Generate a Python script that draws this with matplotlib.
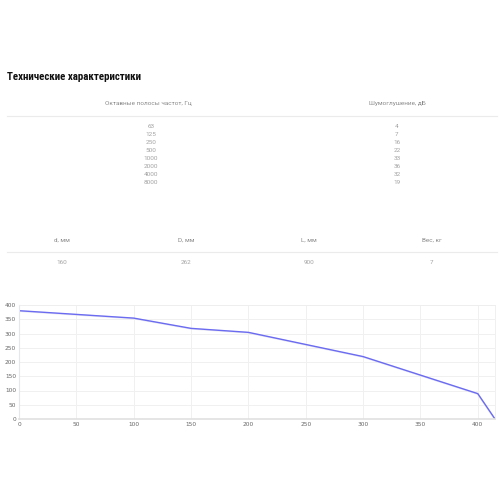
import matplotlib
matplotlib.use("Agg")
import matplotlib.pyplot as plt
from matplotlib.lines import Line2D
from matplotlib import font_manager

title = "Технические характеристики"
octave_header = "Октавные полосы частот, Гц"
noise_header = "Шумоглушение, дБ"
octave_bands = ["63", "125", "250", "500", "1000", "2000", "4000", "8000"]
noise_db = ["4", "7", "16", "22", "33", "36", "32", "19"]

dim_headers = ["d, мм", "D, мм", "L, мм", "Вес, кг"]
dim_values = ["160", "262", "900", "7"]

flow_x = [0, 100, 150, 200, 300, 400, 415]
flow_y = [380, 354, 318, 304, 219, 89, 0]

W = H = 500
fig = plt.figure(figsize=(5, 5), dpi=100)
fig.patch.set_facecolor("white")

def fx(px):
    return px / W

def fy(py):
    return 1 - py / H

txt_color = "#8a8a8a"
val_color = "#a3a3a3"
line_col = "#ebebeb"
body_family = ["Roboto", "DejaVu Sans"]

# condensed title font if available
names = {f.name for f in font_manager.fontManager.ttflist}
stretches = {(f.name, f.stretch) for f in font_manager.fontManager.ttflist}
title_family = ["Roboto", "DejaVu Sans"]
title_stretch = "normal"
for nm in ["Roboto Condensed", "Liberation Sans Narrow", "Arial Narrow"]:
    if nm in names:
        title_family = [nm, "DejaVu Sans"]
        break
else:
    if any(n == "DejaVu Sans" and s != "normal" and s != 400 for n, s in stretches):
        title_family = ["DejaVu Sans"]
        title_stretch = "condensed"

t = fig.text(fx(7), fy(77), title, fontsize=7.8, fontweight="bold",
             family=title_family, fontstretch=title_stretch, color="#111111",
             ha="left", va="center")
renderer = fig.canvas.get_renderer()
w = t.get_window_extent(renderer).width
target = 148.0
if w > target:
    t.set_fontsize(7.8 * target / w)

fig.text(fx(148), fy(103), octave_header, fontsize=4.6, color=txt_color,
         ha="center", va="center", family=body_family)
fig.text(fx(397), fy(103), noise_header, fontsize=4.6, color=txt_color,
         ha="center", va="center", family=body_family)
fig.add_artist(Line2D([fx(7), fx(497)], [fy(116), fy(116)], color=line_col, lw=0.8))

for i, (b, n) in enumerate(zip(octave_bands, noise_db)):
    y = 126.3 + i * 8.06
    fig.text(fx(151), fy(y), b, fontsize=4.6, color=val_color, ha="center",
             va="center", family=body_family)
    fig.text(fx(397), fy(y), n, fontsize=4.6, color=val_color, ha="center",
             va="center", family=body_family)

dim_x = [62, 186, 309, 432]
for xp, h, v in zip(dim_x, dim_headers, dim_values):
    fig.text(fx(xp), fy(240.5), h, fontsize=4.6, color=txt_color, ha="center",
             va="center", family=body_family)
    fig.text(fx(xp), fy(262.5), v, fontsize=4.6, color=val_color, ha="center",
             va="center", family=body_family)
fig.add_artist(Line2D([fx(7), fx(497)], [fy(252.3), fy(252.3)], color=line_col, lw=0.8))

ax = fig.add_axes([fx(19), fy(419), (495 - 19) / W, (419 - 305) / H])
ax.plot(flow_x, [v - 1.5 for v in flow_y], color="#d8d8e8", lw=1.2, alpha=0.6)
ax.plot(flow_x, flow_y, color="#6b6bf2", lw=1.0)
ax.set_xlim(0, 415)
ax.set_ylim(0, 400)
ax.set_xticks([0, 50, 100, 150, 200, 250, 300, 350, 400])
ax.set_yticks([0, 50, 100, 150, 200, 250, 300, 350, 400])
ax.grid(True, color="#f0f0f0", lw=0.7)
ax.set_axisbelow(True)
for s in ["top", "right"]:
    ax.spines[s].set_color("#eeeeee")
    ax.spines[s].set_linewidth(0.6)
ax.spines["left"].set_color("#e4e8e8")
ax.spines["left"].set_linewidth(0.8)
ax.spines["bottom"].set_color("#e0e0e0")
ax.spines["bottom"].set_linewidth(1.2)
ax.tick_params(axis="both", length=0, labelsize=4.2, labelcolor="#666666", pad=2)

fig.savefig("out.png", dpi=100, facecolor="white")
